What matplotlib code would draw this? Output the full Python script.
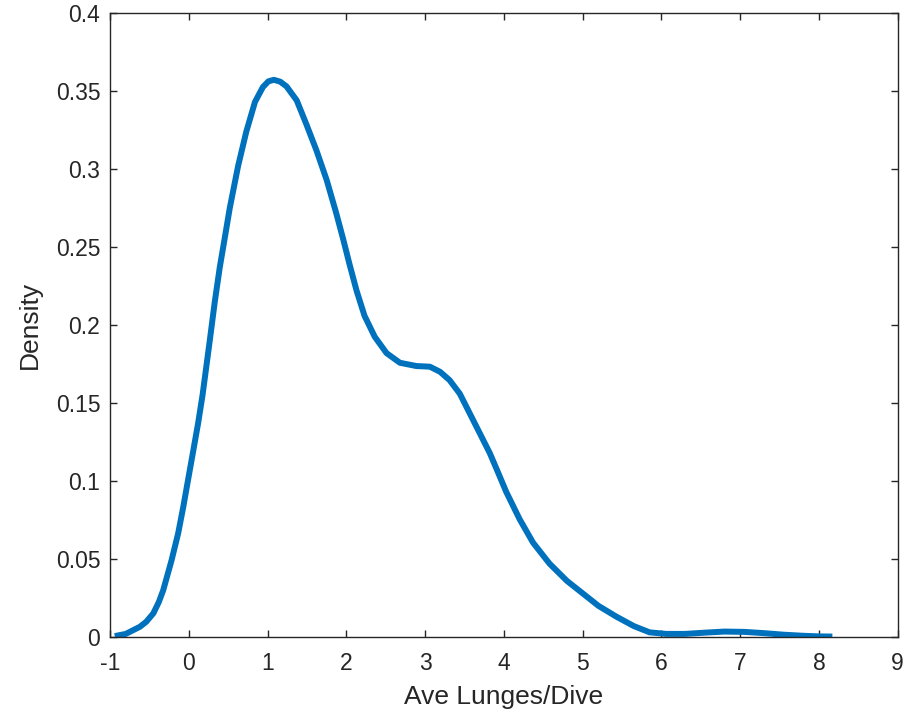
import matplotlib
matplotlib.use("Agg")
import matplotlib.pyplot as plt

# Kernel density estimate
x_vals = [-0.94, -0.80, -0.62, -0.54, -0.45, -0.38, -0.325, -0.22, -0.135, -0.07,
          -0.01, 0.055, 0.118, 0.174, 0.203, 0.266, 0.33, 0.393, 0.457, 0.52,
          0.626, 0.73, 0.84, 0.94, 1.01, 1.08, 1.16, 1.24, 1.37, 1.49,
          1.62, 1.75, 1.87, 1.96, 2.04, 2.13, 2.23, 2.36, 2.51, 2.68,
          2.89, 3.06, 3.19, 3.31, 3.44, 3.57, 3.70, 3.82, 3.93, 4.03,
          4.20, 4.37, 4.58, 4.80, 5.0, 5.20, 5.43, 5.65, 5.85, 6.06,
          6.30, 6.55, 6.80, 7.05, 7.30, 7.55, 7.80, 8.0, 8.17]
y_vals = [0.0006, 0.002, 0.0066, 0.0098, 0.0152, 0.0225, 0.030, 0.049, 0.0665, 0.0835,
          0.1006, 0.119, 0.137, 0.155, 0.166, 0.190, 0.215, 0.237, 0.256, 0.275,
          0.302, 0.324, 0.343, 0.3525, 0.3562, 0.3572, 0.3560, 0.353, 0.344, 0.329,
          0.312, 0.293, 0.272, 0.255, 0.239, 0.222, 0.206, 0.1925, 0.182, 0.1758,
          0.1737, 0.1733, 0.170, 0.1647, 0.156, 0.143, 0.130, 0.118, 0.105, 0.093,
          0.0755, 0.0605, 0.047, 0.036, 0.028, 0.020, 0.013, 0.007, 0.003, 0.002,
          0.002, 0.0028, 0.0035, 0.0033, 0.0025, 0.0015, 0.0008, 0.0004, 0.0003]

x_ticks = [-1, 0, 1, 2, 3, 4, 5, 6, 7, 8, 9]
y_ticks = [0, 0.05, 0.1, 0.15, 0.2, 0.25, 0.3, 0.35, 0.4]
y_tick_labels = ["0", "0.05", "0.1", "0.15", "0.2", "0.25", "0.3", "0.35", "0.4"]

plt.rcParams['font.family'] = ['Liberation Sans', 'DejaVu Sans']
axis_color = '#262626'

fig = plt.figure(figsize=(9.17, 7.16), dpi=100)
ax = fig.add_axes([0.12, 0.1103, 0.859, 0.8715])
ax.plot(x_vals, y_vals, color='#0072BD', linewidth=4.3,
        solid_capstyle='butt', solid_joinstyle='round')
ax.set_xlim(-1, 9)
ax.set_ylim(0, 0.4)
ax.set_xticks(x_ticks)
ax.set_xticklabels([str(t) for t in x_ticks])
ax.set_yticks(y_ticks)
ax.set_yticklabels(y_tick_labels)
ax.tick_params(direction='in', length=5, width=1, colors=axis_color, labelsize=16.5,
               top=True, right=True)
ax.tick_params(axis='x', pad=11)
ax.tick_params(axis='y', pad=7)
for s in ax.spines.values():
    s.set_color(axis_color)
    s.set_linewidth(1)
ax.set_xlabel('Ave Lunges/Dive', fontsize=19, color=axis_color, labelpad=7)
ax.set_ylabel('Density', fontsize=19, color=axis_color, labelpad=10)
fig.savefig('out.png', dpi=100)
